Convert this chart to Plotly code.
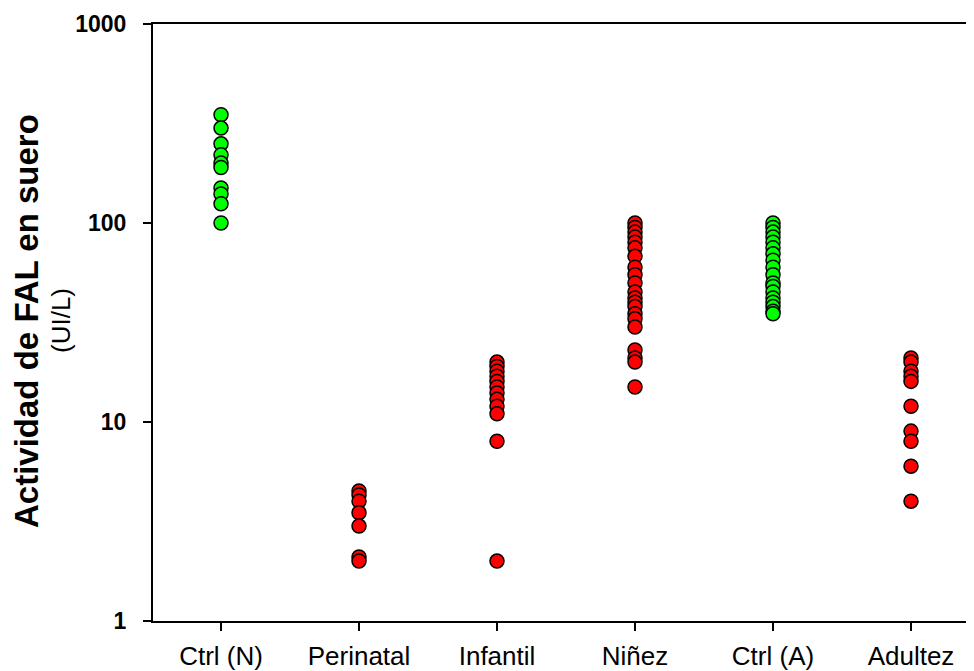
import plotly.graph_objects as go

categories = ["Ctrl (N)", "Perinatal", "Infantil", "Niñez", "Ctrl (A)", "Adultez"]

ctrl_n = [350, 300, 250, 220, 200, 190, 150, 140, 125, 100]
perinatal = [4.5, 4.3, 4.0, 3.5, 3.0, 2.1, 2.0]
infantil = [20, 19, 18, 17, 16, 15, 14, 13, 12, 11, 8, 2]
ninez = [100, 95, 90, 85, 80, 75, 68, 60, 55, 50, 45, 42, 40, 38, 35, 33, 30, 23, 21, 20, 15]
ctrl_a = [100, 95, 90, 85, 80, 75, 70, 65, 60, 55, 50, 48, 45, 42, 40, 38, 36, 35]
adultez = [21, 20, 18, 17, 16, 12, 9, 8, 6, 4]

groups = [ctrl_n, perinatal, infantil, ninez, ctrl_a, adultez]
colors = ["#00FF00", "#FF0000", "#FF0000", "#FF0000", "#00FF00", "#FF0000"]

y_tickvals = [1, 10, 100, 1000]
y_ticktext = ["1", "10", "100", "1000"]

fig = go.Figure()
for i, (vals, col) in enumerate(zip(groups, colors)):
    fig.add_trace(go.Scatter(
        x=[i] * len(vals), y=vals, mode="markers",
        marker=dict(size=14, color=col, line=dict(color="black", width=1.5)),
        showlegend=False, cliponaxis=False,
    ))

font_family = "Liberation Sans, Arial, sans-serif"

# the page body has an 8px margin; the figure is sized so the page is 974x671
OFF = 8
W, H = 974 - OFF, 671 - OFF
L, R, T, B = 153 - OFF, 0, 24 - OFF, 50

fig.update_layout(
    width=W, height=H,
    margin=dict(l=L, r=R, t=T, b=B, autoexpand=False),
    paper_bgcolor="white", plot_bgcolor="white",
    font=dict(family=font_family, color="black"),
    xaxis=dict(
        range=[-0.4928, 5.4565], automargin=False,
        tickmode="array", tickvals=list(range(len(categories))), ticktext=categories,
        showline=True, linecolor="black", linewidth=2, mirror=True,
        ticks="outside", ticklen=8, tickwidth=2, tickcolor="black",
        showgrid=False, zeroline=False, ticklabelstandoff=3,
        tickfont=dict(size=26, family=font_family, color="black"),
    ),
    yaxis=dict(
        type="log", range=[0, 3], automargin=False,
        tickmode="array", tickvals=y_tickvals, ticktext=y_ticktext,
        showline=True, linecolor="black", linewidth=2,
        ticks="outside", ticklen=8, tickwidth=2, tickcolor="black",
        showgrid=False, zeroline=False, ticklabelstandoff=12,
        tickfont=dict(size=23, family=font_family, color="black", weight="bold"),
    ),
)

plot_w = W - L - R
plot_h = H - T - B
def px_to_paper(px, py):
    # px, py are page pixel positions
    return (px - OFF - L) / plot_w, 1 - (py - OFF - T) / plot_h

ax, ay = px_to_paper(26, 321)
bx, by = px_to_paper(61, 321)
fig.add_annotation(text="<b>Actividad de FAL en suero</b>", x=ax, y=ay, xref="paper", yref="paper",
                   showarrow=False, textangle=-90, xanchor="center", yanchor="middle",
                   font=dict(size=33, family=font_family, color="black"))
fig.add_annotation(text="(UI/L)", x=bx, y=by, xref="paper", yref="paper",
                   showarrow=False, textangle=-90, xanchor="center", yanchor="middle",
                   font=dict(size=26, family=font_family, color="black"))

fig.write_html("out.html")
